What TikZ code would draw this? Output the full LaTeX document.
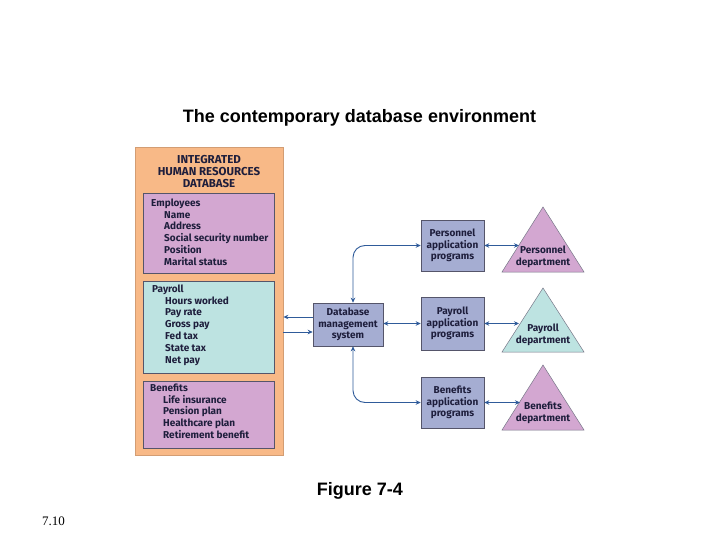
\documentclass[tikz,border=0pt]{standalone}
\usepackage{fontspec}
\setmainfont{Liberation Sans}
\newfontfamily\gillfont{Fira Sans}
\newfontfamily\timesfont{Liberation Serif}
\usetikzlibrary{arrows.meta,calc}
\definecolor{hrorange}{HTML}{F8B987}
\definecolor{hrpurple}{HTML}{D3A7D1}
\definecolor{hrcyan}{HTML}{BDE3E1}
\definecolor{hrblue}{HTML}{A5ADD2}
\definecolor{hrtext}{HTML}{1E1E3C}
\definecolor{hrarrow}{HTML}{2F5B9A}
\definecolor{hrborder}{HTML}{55556A}
\tikzset{
  boxfont/.style={font=\gillfont\bfseries\fontsize{10}{11.8}\selectfont, text=hrtext},
  section/.style={draw=hrborder, line width=0.6pt, anchor=north west, inner sep=0pt},
  listtext/.style={boxfont, align=left, anchor=north west, inner sep=0pt},
  procbox/.style={draw=hrborder, line width=0.6pt, fill=hrblue, boxfont, align=center,
    minimum height=52pt, minimum width=63pt, inner sep=0pt},
  tri/.style={draw=hrborder!80, line width=0.5pt},
  flow/.style={draw=hrarrow, line width=0.9pt, {Stealth[length=5pt,width=4.5pt]}-{Stealth[length=5pt,width=4.5pt]}},
  oneway/.style={draw=hrarrow, line width=0.9pt, -{Stealth[length=5pt,width=4.5pt]}},
}
\begin{document}
\begin{tikzpicture}[x=1pt,y=-1pt]
\useasboundingbox (0,0) rectangle (720,540);
\fill[white] (0,0) rectangle (720,540);

% titles
\node[font=\bfseries\fontsize{18}{20}\selectfont] (title) at (359.5,117.5) {The contemporary database environment};
\node[font=\bfseries\fontsize{18}{20}\selectfont] (fig) at (360,490.5) {Figure 7-4};
\node[font=\timesfont\fontsize{13}{15}\selectfont, anchor=west, inner sep=0pt] (pageno) at (42,521) {7.10};

% database
\node[draw=hrorange!85!black, line width=0.4pt, fill=hrorange, anchor=north west,
  minimum width=148pt, minimum height=308pt, inner sep=0pt] (hrdb) at (135,147) {};
\node[boxfont, font=\gillfont\bfseries\fontsize{11.5}{12}\selectfont, align=center, inner sep=0pt] (dbtitle) at (209,171.5)
  {INTEGRATED\\HUMAN RESOURCES\\DATABASE};

\node[section, fill=hrpurple, minimum width=131pt, minimum height=80pt] (emp) at (143,193) {};
\node[listtext] (emptext) at (151,198.5) {Employees\\
  \hspace*{13pt}Name\\
  \hspace*{13pt}Address\\
  \hspace*{13pt}Social security number\\
  \hspace*{13pt}Position\\
  \hspace*{13pt}Marital status};

\node[section, fill=hrcyan, minimum width=131pt, minimum height=92pt] (pay) at (143,281) {};
\node[listtext] (paytext) at (152,284.5) {Payroll\\
  \hspace*{13pt}Hours worked\\
  \hspace*{13pt}Pay rate\\
  \hspace*{13pt}Gross pay\\
  \hspace*{13pt}Fed tax\\
  \hspace*{13pt}State tax\\
  \hspace*{13pt}Net pay};

\node[section, fill=hrpurple, minimum width=131pt, minimum height=67pt] (ben) at (143,381) {};
\node[listtext] (bentext) at (150,383.5) {Benefits\\
  \hspace*{13pt}Life insurance\\
  \hspace*{13pt}Pension plan\\
  \hspace*{13pt}Healthcare plan\\
  \hspace*{13pt}Retirement benefit};

% DBMS
\node[procbox, minimum width=70pt, minimum height=43pt] (dbms) at (348,324.5)
  {Database\\management\\system};

% application programs
\node[procbox, minimum height=51pt] (perapp) at (452.5,245.5) {Personnel\\application\\programs};
\node[procbox, minimum height=53pt] (payapp) at (452.5,323.5) {Payroll\\application\\programs};
\node[procbox, minimum height=51pt] (benapp) at (452.5,402.5) {Benefits\\application\\programs};

% departments (triangles)
\filldraw[tri, fill=hrpurple] (543,207) -- (584,272) -- (502,272) -- cycle;
\filldraw[tri, fill=hrcyan] (543,288) -- (584,352) -- (502,352) -- cycle;
\filldraw[tri, fill=hrpurple] (543,365) -- (584,430) -- (502,430) -- cycle;
\node[boxfont, align=center, inner sep=0pt] (perdept) at (543,257) {Personnel\\department};
\node[boxfont, align=center, inner sep=0pt] (paydept) at (543,335) {Payroll\\department};
\node[boxfont, align=center, inner sep=0pt] (bendept) at (543,413) {Benefits\\department};
\coordinate (perdeptedge) at (519,245.5);
\coordinate (paydeptedge) at (519,323.5);
\coordinate (bendeptedge) at (520,402.5);

% connectors
\draw[oneway] ([yshift=7.5pt]dbms.west) -- ([yshift=7.5pt]dbms.west -| hrdb.east);
\draw[oneway] ([yshift=-7.5pt]dbms.west -| hrdb.east) -- ([yshift=-7.5pt]dbms.west);
\draw[flow, rounded corners=12pt] ([xshift=5pt]dbms.north) |- (perapp.west);
\draw[flow, rounded corners=12pt] ([xshift=5pt]dbms.south) |- (benapp.west);
\draw[flow] (dbms.east |- payapp.west) -- (payapp.west);
\draw[flow] (perapp.east) -- (perdeptedge);
\draw[flow] (payapp.east) -- (paydeptedge);
\draw[flow] (benapp.east) -- (bendeptedge);
\end{tikzpicture}
\end{document}
